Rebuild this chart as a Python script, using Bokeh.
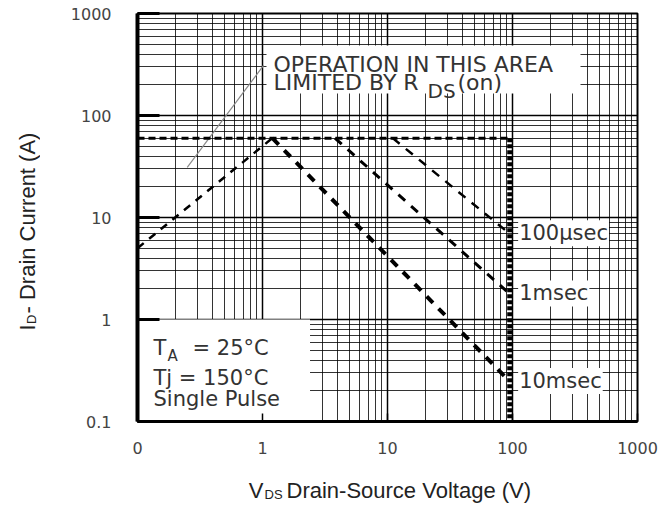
import math

from bokeh.core.properties import value
from bokeh.embed import file_html
from bokeh.layouts import column, row
from bokeh.models import BoxAnnotation, FixedTicker, Label, LogTicker, Range1d
from bokeh.plotting import figure
from bokeh.resources import INLINE

# Axis ticks
x_ticks = [0.1, 1, 10, 100, 1000]
x_tick_labels = ["0", "1", "10", "100", "1000"]
y_ticks = [0.1, 1, 10, 100, 1000]
y_tick_labels = ["0.1", "1", "10", "100", "1000"]

# Boundary limited by on-resistance
rds_v = [0.1, 1.2]
rds_i = [5.0, 60.0]

# Package current limit and voltage rating
i_max = 60.0
v_max = 95.0
limit_v = [0.1, v_max]
limit_i = [i_max, i_max]
vlimit_v = [v_max, v_max]
vlimit_i = [i_max, 0.1]

# Single pulse boundaries
pulse_names = ["100µsec", "1msec", "10msec"]
pulse_v = [[11.0, 94.0], [3.8, 94.0], [1.2, 94.0]]
pulse_i = [[60.0, 7.0], [60.0, 1.8], [60.0, 0.25]]
pulse_width = [2.5, 3.0, 4.0]

# Leader line for the R_DS(on) note
pointer_v = [0.25, 1.02]
pointer_i = [31.0, 310.0]

# Corner of the conditions box (V, A)
cond_box_v = 2.4
cond_box_i = 1.0

SANS = "DejaVu Sans"
ARIAL = "Liberation Sans"
TXT = "#333333"
TITLE = "#222222"

# ---------------------------------------------------------------- main plot
p = figure(
    width=624, height=470,
    x_axis_type="log", y_axis_type="log",
    x_range=Range1d(x_ticks[0], x_ticks[-1]),
    y_range=Range1d(y_ticks[0], y_ticks[-1]),
    output_backend="svg", toolbar_location=None,
    min_border_left=97, min_border_right=27,
    min_border_top=13, min_border_bottom=49,
    frame_align=False,
)
p.background_fill_color = "white"
p.border_fill_color = "white"
p.outline_line_color = "black"
p.outline_line_width = 2

# Grid: decades plus 2..9 subdivisions
for g in (p.xgrid, p.ygrid):
    g.ticker = LogTicker(num_minor_ticks=10)
    g.grid_line_color = "black"
    g.grid_line_width = 1.5
    g.minor_grid_line_color = "black"
    g.minor_grid_line_alpha = 0.8
    g.minor_grid_line_width = 1

p.xaxis.ticker = FixedTicker(ticks=x_ticks, minor_ticks=[])
p.yaxis.ticker = FixedTicker(ticks=y_ticks, minor_ticks=[])
p.xaxis.major_label_overrides = {t: s for t, s in zip(x_ticks, x_tick_labels)}
p.yaxis.major_label_overrides = {t: s for t, s in zip(y_ticks, y_tick_labels)}
for ax in (p.xaxis, p.yaxis):
    ax.major_label_text_font = SANS
    ax.major_label_text_font_size = "16px"
    ax.major_label_text_color = "#444444"
    ax.axis_line_color = "black"
    ax.major_tick_line_color = "black"
    ax.major_tick_out = 0
    ax.minor_tick_out = 0
    ax.minor_tick_in = 0
p.xaxis.axis_line_width = 3
p.xaxis.major_tick_in = 8
p.xaxis.major_tick_line_width = 1.5
p.xaxis.major_label_standoff = 20
p.yaxis.axis_line_width = 4
p.yaxis.major_tick_in = 22
p.yaxis.major_tick_line_width = 3
p.yaxis.major_label_standoff = 26

# White panels behind the notes
p.add_layout(BoxAnnotation(
    left=x_ticks[0], right=cond_box_v, bottom=y_ticks[0], top=cond_box_i,
    fill_color="white", fill_alpha=1.0, line_color=None, level="glyph",
))
p.add_layout(BoxAnnotation(
    left=129, right=443, bottom=328, top=376,
    left_units="screen", right_units="screen",
    bottom_units="screen", top_units="screen",
    fill_color="white", fill_alpha=1.0, line_color=None, level="glyph",
))

# Safe operating area boundaries
p.line(pointer_v, pointer_i, line_color="#8a8a8a", line_width=1.2)
p.line(rds_v, rds_i, line_color="black", line_width=2.5, line_dash="8 7")
p.line(limit_v, limit_i, line_color="black", line_width=3, line_dash="7 4")
p.line(vlimit_v, vlimit_i, line_color="black", line_width=5, line_dash="4 2")
for v, i, w in zip(pulse_v, pulse_i, pulse_width):
    p.line(v, i, line_color="black", line_width=w, line_dash="9 8")

# Pulse width labels at the end of each boundary
for name, v, i in zip(pulse_names, pulse_v, pulse_i):
    p.add_layout(Label(
        x=v[-1], y=i[-1], text=name, x_offset=9,
        text_font=SANS, text_font_size="21px", text_color=TXT,
        text_baseline="middle", text_align="left",
        background_fill_color="white", padding=1,
    ))


def note(x, y, text, size="21px", align="left"):
    """Text placed in screen units relative to the plot frame."""
    p.add_layout(Label(
        x=x, y=y, x_units="screen", y_units="screen", text=text,
        text_font=SANS, text_font_size=size, text_color=TXT,
        text_align=align, text_baseline="alphabetic",
    ))


# R_DS(on) note
note(136, 357, "OPERATION IN THIS AREA", size="22px")
note(136, 339, "LIMITED BY R", size="22px")
note(290, 331, "DS", size="20px")
note(320, 339, "(on)", size="22px")

# Test conditions
note(16, 74, "T")
note(30, 66, "A", size="15px")
note(55, 74, "= 25°C")
note(16, 44, "Tj = 150°C")
note(16, 23, "Single Pulse")

# ---------------------------------------------------------------- axis titles
def text_strip(width, height):
    f = figure(
        width=width, height=height,
        x_range=Range1d(0, width), y_range=Range1d(0, height),
        x_axis_location=None, y_axis_location=None,
        output_backend="svg", toolbar_location=None,
        min_border=0, min_border_left=0, min_border_right=0,
        min_border_top=0, min_border_bottom=0,
        frame_align=False,
    )
    f.outline_line_color = None
    f.background_fill_color = "white"
    f.border_fill_color = "white"
    f.grid.visible = False
    return f


def title_text(f, x, y, text, size, angle=0.0, align="left"):
    f.text(
        x=[x], y=[y], text=[text], angle=angle,
        text_font=value(ARIAL), text_font_size=value(size),
        text_color=TITLE, text_align=align, text_baseline="alphabetic",
    )


# Vertical title: I_D- Drain Current (A)
ytitle = text_strip(40, 506)
title_text(ytitle, 27, 176, "I", "22px", angle=math.pi / 2)
title_text(ytitle, 31, 182.5, "D", "13px", angle=math.pi / 2)
title_text(ytitle, 27, 193, "- Drain Current (A)", "22px", angle=math.pi / 2)

# Horizontal title: V_DS Drain-Source Voltage (V)
xtitle = text_strip(624, 36)
title_text(xtitle, 223, 16, "V", "22px", align="right")
title_text(xtitle, 224, 12, "DS", "13px")
title_text(xtitle, 246, 16, "Drain-Source Voltage (V)", "22px")

layout = row(ytitle, column(p, xtitle, spacing=0), spacing=0)

open("out.html", "w").write(file_html(layout, INLINE))
